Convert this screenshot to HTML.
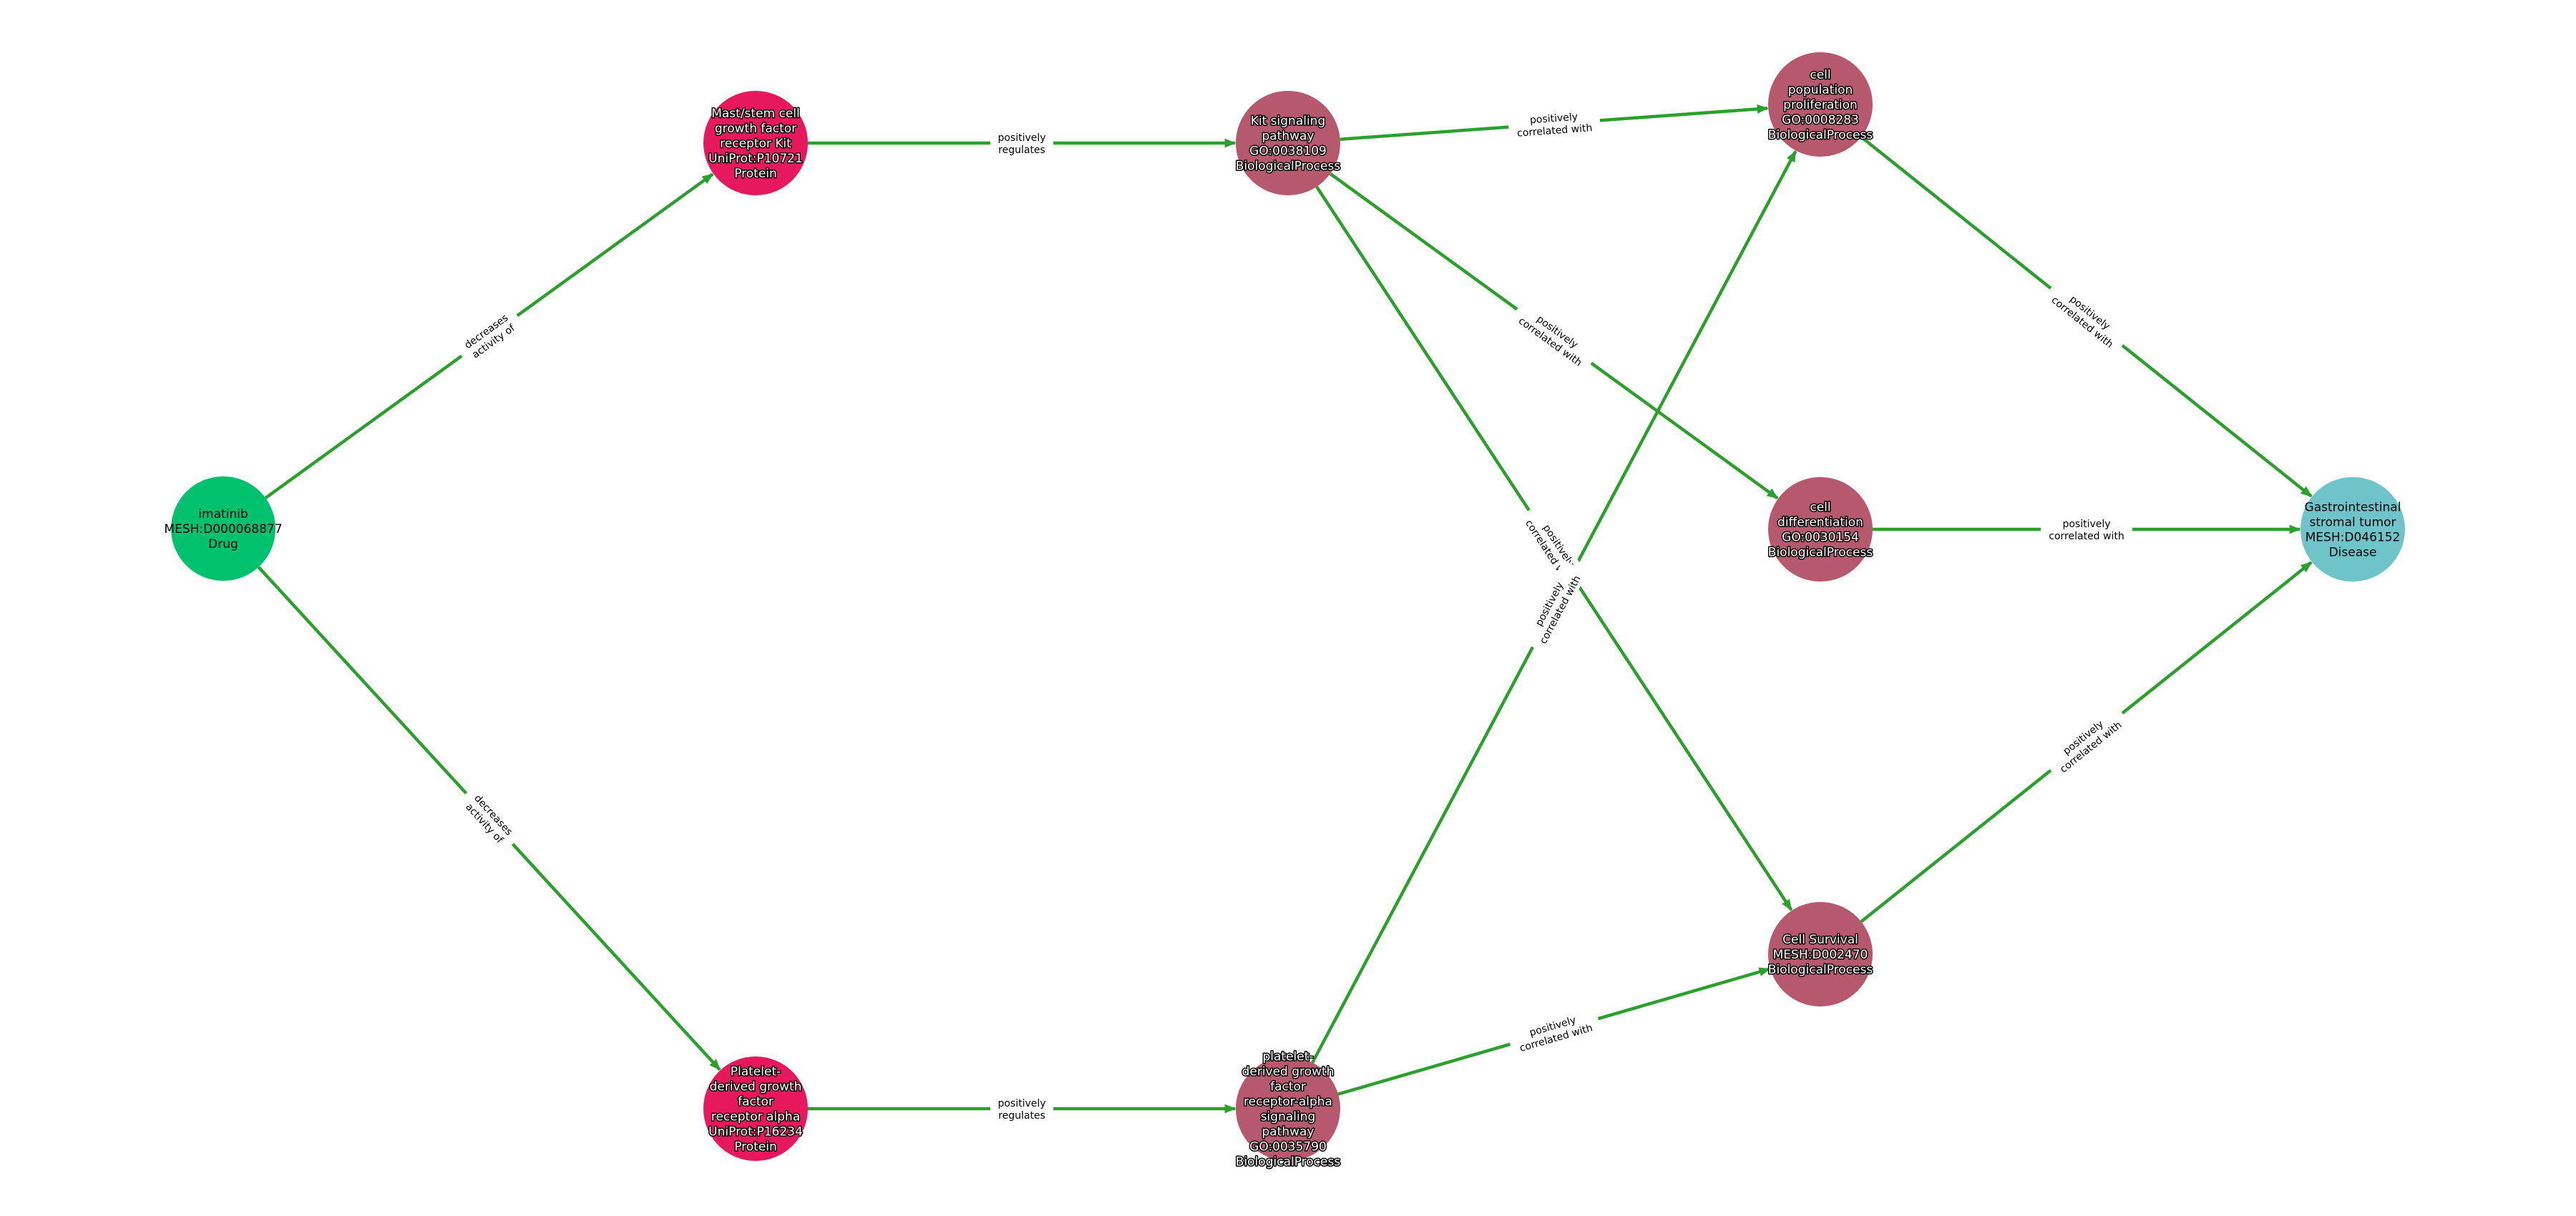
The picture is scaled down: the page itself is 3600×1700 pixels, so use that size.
<!DOCTYPE html>
<html><head><meta charset="utf-8"><style>
html,body{margin:0;padding:0;background:#fff;}
svg{display:block;font-family:"DejaVu Sans","Liberation Sans",sans-serif;}
.nl{font-size:17px;text-anchor:middle;}
.w{fill:#fff;stroke:#000;stroke-width:3px;paint-order:stroke;stroke-linejoin:round;}
.b{fill:#000;}
.el{font-size:14px;text-anchor:middle;fill:#000;}
</style></head><body>
<svg id="s" width="3600" height="1700" viewBox="0 0 3600 1700" xmlns="http://www.w3.org/2000/svg">
<defs>
<marker id="ah2" viewBox="0 0 10 10" markerWidth="18" markerHeight="16" refX="9" refY="5" orient="auto" markerUnits="userSpaceOnUse"><path d="M0,1 L10,5 L0,9 z" fill="#2ca02c"/></marker></defs>
<g id="edges"></g><g id="labels"></g><g id="nodes"></g>
</svg>
<script>
var N={
I:[312,739,"#00c16e",["imatinib","MESH:D000068877","Drug"],"b"],
M:[1056,200,"#e8185e",["Mast/stem cell","growth factor","receptor Kit","UniProt:P10721","Protein"],"w"],
K:[1800,200,"#b6596f",["Kit signaling","pathway","GO:0038109","BiologicalProcess"],"w"],
P:[2544,146,"#b6596f",["cell","population","proliferation","GO:0008283","BiologicalProcess"],"w"],
D:[2544,740,"#b6596f",["cell","differentiation","GO:0030154","BiologicalProcess"],"w"],
S:[2544,1334,"#b6596f",["Cell Survival","MESH:D002470","BiologicalProcess"],"w"],
G:[3288,740,"#6ec4c9",["Gastrointestinal","stromal tumor","MESH:D046152","Disease"],"b"],
R:[1056,1550,"#e8185e",["Platelet-","derived growth","factor","receptor alpha","UniProt:P16234","Protein"],"w"],
F:[1800,1550,"#b6596f",["platelet-","derived growth","factor","receptor-alpha","signaling","pathway","GO:0035790","BiologicalProcess"],"w"]
};
var E=[["I","M","decreases","activity of"],["I","R","decreases","activity of"],["M","K","positively","regulates"],["R","F","positively","regulates"],
["K","P","positively","correlated with"],["K","D","positively","correlated with"],["K","S","positively","correlated with"],
["F","P","positively","correlated with"],["F","S","positively","correlated with"],
["P","G","positively","correlated with"],["D","G","positively","correlated with"],["S","G","positively","correlated with"]];
var NS="http://www.w3.org/2000/svg",r=73;
function el(t,a,p){var e=document.createElementNS(NS,t);for(var k in a)e.setAttribute(k,a[k]);p.appendChild(e);return e;}
var eg=document.getElementById("edges"),lg=document.getElementById("labels"),ng=document.getElementById("nodes");
E.forEach(function(e){var a=N[e[0]],b=N[e[1]];var dx=b[0]-a[0],dy=b[1]-a[1],L=Math.sqrt(dx*dx+dy*dy),ux=dx/L,uy=dy/L;
el("line",{x1:a[0]+ux*r,y1:a[1]+uy*r,x2:b[0]-ux*(r+1),y2:b[1]-uy*(r+1),stroke:"#2ca02c","stroke-width":4.5,"marker-end":"url(#ah2)"},eg);
var mx=(a[0]+b[0])/2,my=(a[1]+b[1])/2,ang=Math.atan2(dy,dx)*180/Math.PI;if(ang>90)ang-=180;if(ang<-90)ang+=180;
var g=el("g",{transform:"translate("+mx+","+my+") rotate("+ang+")"},lg);
var w=Math.max(e[2].length,e[3].length)*8+8;
el("rect",{x:-w/2,y:-19,width:w,height:38,fill:"#fff"},g);
var t1=el("text",{"class":"el",x:0,y:-3},g);t1.textContent=e[2];
var t2=el("text",{"class":"el",x:0,y:14},g);t2.textContent=e[3];});
for(var k in N){var n=N[k];el("circle",{cx:n[0],cy:n[1],r:r,fill:n[2]},ng);
var ls=n[3],lh=21,y0=n[1]-(ls.length-1)*lh/2+6;
ls.forEach(function(s,i){var t=el("text",{"class":"nl "+n[4],x:n[0],y:y0+i*lh},ng);t.textContent=s;});}
</script>
</body></html>
